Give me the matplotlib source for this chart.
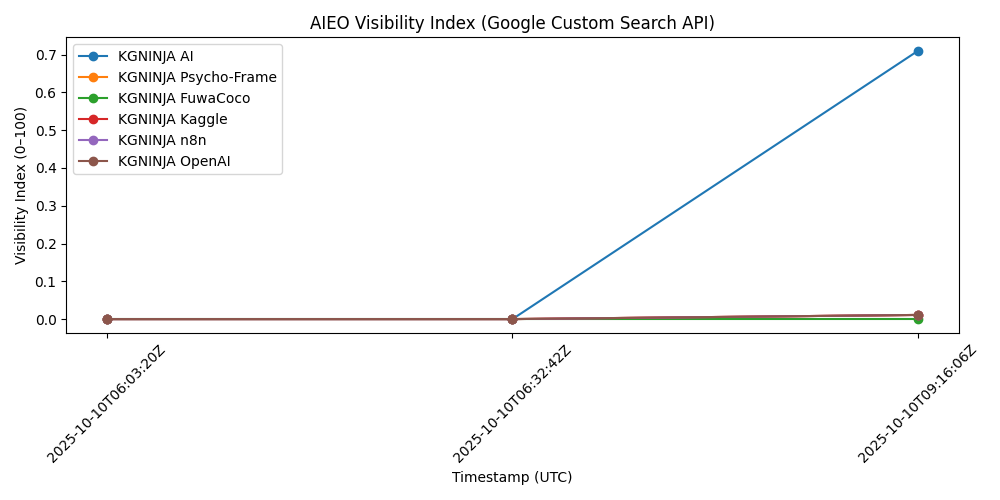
import matplotlib
matplotlib.use("Agg")
import matplotlib.pyplot as plt

timestamps = ["2025-10-10T06:03:20Z", "2025-10-10T06:32:42Z", "2025-10-10T09:16:06Z"]
names = ["KGNINJA AI", "KGNINJA Psycho-Frame", "KGNINJA FuwaCoco",
         "KGNINJA Kaggle", "KGNINJA n8n", "KGNINJA OpenAI"]
ai = [0.0, 0.0, 0.71]
psycho = [0.0, 0.0, 0.011]
fuwacoco = [0.0, 0.0, 0.0]
kaggle = [0.0, 0.0, 0.011]
n8n = [0.0, 0.0, 0.011]
openai = [0.0, 0.0, 0.011]

series = [ai, psycho, fuwacoco, kaggle, n8n, openai]

plt.figure(figsize=(10, 5))
for name, vals in zip(names, series):
    plt.plot(timestamps, vals, marker='o', label=name)
plt.title("AIEO Visibility Index (Google Custom Search API)")
plt.xlabel("Timestamp (UTC)")
plt.ylabel("Visibility Index (0–100)")
plt.xticks(rotation=45)
plt.legend()
plt.tight_layout()
plt.savefig("out.png", dpi=100)
